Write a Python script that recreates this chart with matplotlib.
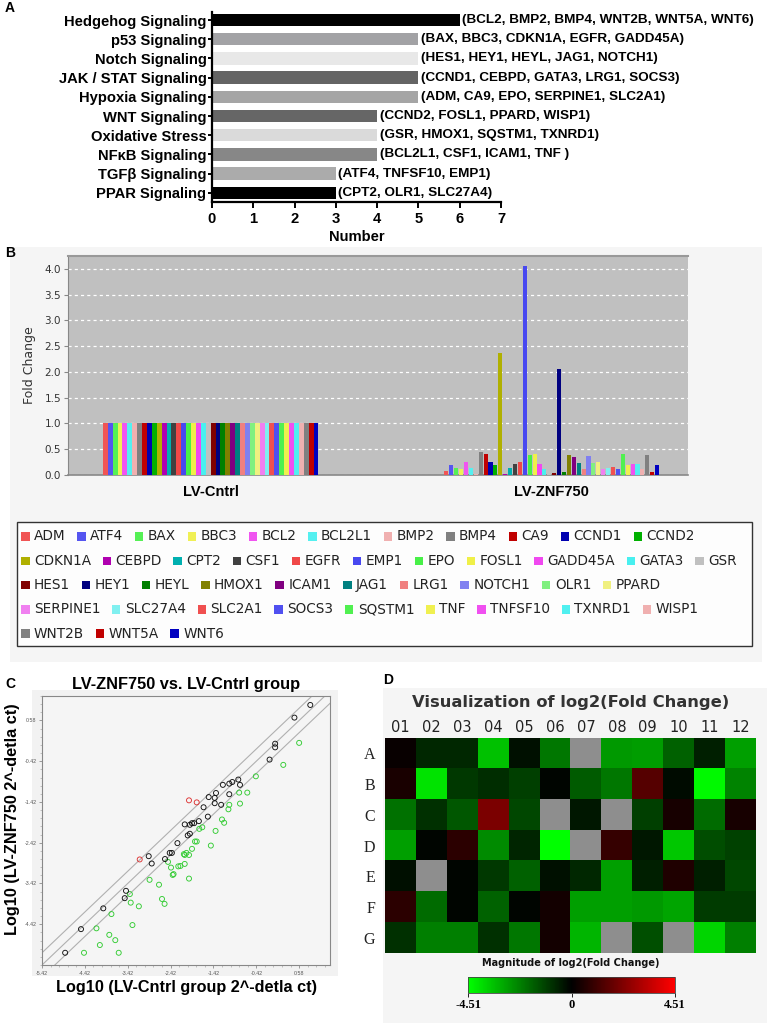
import numpy as np
import matplotlib
matplotlib.use('Agg')
import matplotlib.pyplot as plt
from matplotlib.colors import LinearSegmentedColormap
from matplotlib.patches import Rectangle
from matplotlib.ticker import AutoMinorLocator

plt.rcParams['font.family'] = ['Liberation Sans', 'DejaVu Sans']

# ---------------- data ----------------
# Panel A
pathways = ['Hedgehog Signaling', 'p53 Signaling', 'Notch Signaling', 'JAK / STAT Signaling',
            'Hypoxia Signaling', 'WNT Signaling', 'Oxidative Stress', 'NFκB Signaling',
            'TGFβ Signaling', 'PPAR Signaling']
pathway_counts = [6, 5, 5, 5, 5, 4, 4, 4, 3, 3]
pathway_genes = ['(BCL2, BMP2, BMP4, WNT2B, WNT5A, WNT6)',
                 '(BAX, BBC3, CDKN1A, EGFR, GADD45A)',
                 '(HES1, HEY1, HEYL, JAG1, NOTCH1)',
                 '(CCND1, CEBPD, GATA3, LRG1, SOCS3)',
                 '(ADM, CA9, EPO, SERPINE1, SLC2A1)',
                 '(CCND2, FOSL1, PPARD, WISP1)',
                 '(GSR, HMOX1, SQSTM1, TXNRD1)',
                 '(BCL2L1, CSF1, ICAM1, TNF )',
                 '(ATF4, TNFSF10, EMP1)',
                 '(CPT2, OLR1, SLC27A4)']
pathway_colors = ['#000000', '#a2a2a5', '#e8e8e8', '#646464', '#a5a5a5',
                  '#666666', '#dadada', '#878787', '#ababab', '#000000']

# Panel B
genes = ['ADM', 'ATF4', 'BAX', 'BBC3', 'BCL2', 'BCL2L1', 'BMP2', 'BMP4', 'CA9', 'CCND1', 'CCND2',
         'CDKN1A', 'CEBPD', 'CPT2', 'CSF1', 'EGFR', 'EMP1', 'EPO', 'FOSL1', 'GADD45A', 'GATA3', 'GSR',
         'HES1', 'HEY1', 'HEYL', 'HMOX1', 'ICAM1', 'JAG1', 'LRG1', 'NOTCH1', 'OLR1', 'PPARD',
         'SERPINE1', 'SLC27A4', 'SLC2A1', 'SOCS3', 'SQSTM1', 'TNF', 'TNFSF10', 'TXNRD1', 'WISP1',
         'WNT2B', 'WNT5A', 'WNT6']
gene_colors = ['#f05555', '#5555f0', '#55f055', '#f0f055', '#f055f0', '#55f0f0', '#f0b0b0', '#808080',
               '#c00000', '#0000b0', '#00b000', '#b0b000', '#b000b0', '#00b0b0', '#404040', '#f04848',
               '#4848f0', '#48f048', '#f0f048', '#f048f0', '#48f0f0', '#c0c0c0', '#800000', '#000080',
               '#008000', '#808000', '#800080', '#008080', '#f08080', '#8080f0', '#80f080', '#f0f080',
               '#f080f0', '#80f0f0', '#f05050', '#5050f0', '#50f050', '#f0f050', '#f050f0', '#50f0f0',
               '#f0b0b0', '#808080', '#c00000', '#0000c0']
groups = ['LV-Cntrl', 'LV-ZNF750']
fc_cntrl = [1.0] * 44
fc_znf = [0.08, 0.19, 0.14, 0.12, 0.26, 0.13, 0.02, 0.45, 0.41, 0.26, 0.19,
          2.36, 0.01, 0.14, 0.21, 0.26, 4.06, 0.39, 0.40, 0.21, 0.12, 0.15,
          0.04, 2.06, 0.05, 0.38, 0.34, 0.24, 0.12, 0.36, 0.23, 0.26,
          0.12, 0.13, 0.16, 0.12, 0.40, 0.19, 0.21, 0.21, 0.11, 0.38, 0.06, 0.19]
fc_yticks = [0.0, 0.5, 1.0, 1.5, 2.0, 2.5, 3.0, 3.5, 4.0]

# Panel C (log10 values)
black_x = [0.84, 0.47, 0.02, 0.02, -0.11, -0.84, -0.98, -1.05, -1.20, -0.80, -1.36, -1.05, -1.53,
           -1.39, -1.39, -1.24, -1.65, -1.55, -1.76, -1.87, -1.92, -1.97, -2.09, -1.97, -2.02,
           -2.26, -2.39, -2.44, -2.55, -2.93, -2.86, -3.46, -3.49, -3.99, -4.51, -4.88]
black_y = [0.96, 0.65, 0.01, -0.08, -0.38, -0.87, -0.93, -0.97, -1.00, -1.00, -1.20, -1.23, -1.30,
           -1.32, -1.45, -1.49, -1.55, -1.78, -1.89, -1.94, -1.94, -1.98, -1.97, -2.20, -2.24,
           -2.43, -2.67, -2.67, -2.82, -2.75, -2.93, -3.60, -3.78, -4.03, -4.54, -5.12]
red_x = [-1.99, -1.81, -3.14]
red_y = [-1.38, -1.43, -2.83]
green_x = [0.58, 0.21, -0.43, -0.82, -0.63, -0.80, -1.05, -1.07, -1.22, -1.17, -1.68, -1.75, -1.37,
           -1.81, -1.85, -1.48, -1.92, -2.11, -2.05, -1.99, -2.09, -2.48, -2.41, -2.35, -2.37,
           -2.24, -2.19, -2.09, -1.99, -2.91, -2.69, -3.37, -3.35, -3.16, -2.62, -2.56, -3.80,
           -3.31, -4.15, -3.85, -3.71, -4.07, -4.44, -3.63]
green_y = [0.03, -0.51, -0.79, -1.19, -1.19, -1.46, -1.49, -1.60, -1.85, -1.93, -2.04, -2.08, -2.13,
           -2.39, -2.39, -2.49, -2.57, -2.70, -2.67, -2.72, -2.72, -2.89, -3.03, -3.19, -3.21,
           -3.00, -2.99, -2.94, -3.30, -3.33, -3.45, -3.68, -3.89, -3.98, -3.80, -3.92, -4.17,
           -4.44, -4.52, -4.68, -4.81, -4.93, -5.12, -5.12]
log_ticks = [-5.42, -4.42, -3.42, -2.42, -1.42, -0.42, 0.58]
fold_threshold = 0.30  # log10(2)

# Panel D
nan = np.nan
plate_cols = ['01', '02', '03', '04', '05', '06', '07', '08', '09', '10', '11', '12']
plate_rows = ['A', 'B', 'C', 'D', 'E', 'F', 'G']
log2_fc = [
    [0.15, -0.70, -0.70, -3.40, -0.30, -2.10, nan, -2.70, -2.75, -1.70, -0.55, -2.80],
    [0.45, -4.00, -1.00, -0.80, -1.10, -0.10, -1.60, -2.10, 1.50, -0.20, -4.40, -2.30],
    [-2.00, -0.85, -1.55, 2.15, -1.25, nan, -0.40, nan, -1.10, 0.40, -1.90, 0.42],
    [-2.80, -0.08, 0.75, -2.45, -0.65, -4.51, nan, 0.95, -0.40, -3.50, -1.35, -1.15],
    [-0.25, nan, -0.10, -1.00, -1.70, -0.30, -0.70, -2.80, -0.55, 0.55, -0.55, -1.25],
    [0.75, -1.90, -0.10, -1.75, -0.10, 0.35, -2.80, -2.80, -2.70, -2.90, -1.05, -1.05],
    [-0.85, -2.25, -2.25, -0.85, -2.10, 0.35, -3.20, nan, -1.40, nan, -3.75, -2.25],
]
fc_limit = 4.51

# ---------------- figure ----------------
W, H = 767, 1023
fig = plt.figure(figsize=(W / 100, H / 100), dpi=100)
fig.patch.set_facecolor('white')


def add_ax(l, t, r, b):
    return fig.add_axes([l / W, 1 - b / H, (r - l) / W, (b - t) / H])


def ftext(x, y, s, **kw):
    return fig.text(x / W, 1 - y / H, s, **kw)


def frect(l, t, r, b, **kw):
    rect = Rectangle((l / W, 1 - b / H), (r - l) / W, (b - t) / H, transform=fig.transFigure, **kw)
    fig.add_artist(rect)
    return rect


# backgrounds
frect(10, 247, 762, 662, facecolor='#f5f5f5', edgecolor='none', zorder=-10)
frect(32, 690, 338, 976, facecolor='#f2f2f2', edgecolor='none', zorder=-10)
frect(383, 688, 767, 1023, facecolor='#f5f5f5', edgecolor='none', zorder=-10)

# ---------------- Panel A ----------------
axA = add_ax(212, 12, 501, 202)
ya = np.arange(len(pathways))
axA.barh(ya, pathway_counts, height=0.65, color=pathway_colors, edgecolor='none')
axA.set_xlim(0, 7)
axA.set_ylim(len(pathways) - 0.52, -0.42)
axA.set_yticks(ya)
axA.set_yticklabels(pathways, fontsize=10.6, fontweight='bold')
axA.set_xticks(range(8))
axA.set_xticklabels([str(i) for i in range(8)], fontsize=10.6, fontweight='bold')
for s in ['top', 'right']:
    axA.spines[s].set_visible(False)
for s in ['left', 'bottom']:
    axA.spines[s].set_linewidth(1.6)
axA.tick_params(axis='y', direction='out', width=1.4, length=3, pad=1)
axA.tick_params(axis='x', direction='out', width=1.4, length=4, pad=3)
axA.set_xlabel('Number', fontsize=10.6, fontweight='bold', labelpad=3)
for i, (c, g) in enumerate(zip(pathway_counts, pathway_genes)):
    axA.text(c + 0.06, i, g, va='center', ha='left', fontsize=9.7, fontweight='bold',
             clip_on=False)
ftext(5, 8, 'A', fontsize=10, fontweight='bold', va='center')

# ---------------- Panel B ----------------
axB = add_ax(68, 256, 688, 475)
axB.set_facecolor('#c0c0c0')
n = len(genes)
bar_w_units = 126.5
start0, start1 = 7.1, 76.7
axB.bar(start0 + np.arange(n), fc_cntrl, width=1.0, align='edge', color=gene_colors,
        edgecolor='none', zorder=3)
axB.bar(start1 + np.arange(n) + 0.08, fc_znf, width=0.84, align='edge', color=gene_colors,
        edgecolor='none', zorder=3)
axB.set_xlim(0, bar_w_units)
axB.set_ylim(0, 4.25)
axB.set_yticks(fc_yticks)
axB.set_yticklabels(['%.1f' % v for v in fc_yticks], fontsize=7.5, color='#333333',
                    fontfamily='DejaVu Sans')
axB.yaxis.grid(True, color='white', linestyle=(0, (2.5, 2.5)), linewidth=0.9, zorder=1)
axB.set_axisbelow(True)
axB.set_xticks([start0 + n / 2, start1 + n / 2])
axB.set_xticklabels(groups, fontsize=10.5, fontweight='bold')
axB.tick_params(axis='x', length=0, pad=7)
axB.tick_params(axis='y', length=3, color='#888888', pad=2)
for s in ['right']:
    axB.spines[s].set_visible(False)
axB.spines['top'].set_color('#999999')
axB.spines['top'].set_linewidth(1.5)
axB.spines['left'].set_color('#888888')
axB.spines['bottom'].set_color('#888888')
axB.spines['bottom'].set_linewidth(1.2)
axB.set_ylabel('Fold Change', fontsize=9, color='#333333', fontfamily='DejaVu Sans', labelpad=6)
ftext(5, 253, 'B', fontsize=10, fontweight='bold', va='center')

# legend (flow layout)
frect(17, 522, 752, 646, facecolor='#fdfdfd', edgecolor='#333333', linewidth=1.0, zorder=1)
renderer = fig.canvas.get_renderer()
lx0, lx1 = 21, 741
row_y0, row_dy = 536.5, 24.3
sq, sq_gap, item_gap = 8.5, 4.5, 11.5
x = lx0
row = 0
for g, c in zip(genes, gene_colors):
    t = ftext(0, 0, g, fontsize=9.8, va='center', ha='left', color='#222222',
              fontfamily='DejaVu Sans', zorder=3)
    w = t.get_window_extent(renderer).width
    if x + sq + sq_gap + w > lx1:
        row += 1
        x = lx0
    yy = row_y0 + row * row_dy
    frect(x, yy - sq / 2, x + sq, yy + sq / 2, facecolor=c, edgecolor='none', zorder=2)
    t.set_position(((x + sq + sq_gap) / W, 1 - yy / H))
    x = x + sq + sq_gap + w + item_gap

# ---------------- Panel C ----------------
axC = add_ax(42, 696, 330, 965)
axC.set_facecolor('#f5f5f5')
xl = (-5.42, 1.30)
yl = (-5.42, 1.18)
xx = np.array([-6.0, 2.0])
for off in (-fold_threshold, 0.0, fold_threshold):
    axC.plot(xx, xx + off, color='#b0b0b0', linewidth=0.8, zorder=1)
mk = dict(marker='o', s=13, facecolors='none', linewidths=0.65, zorder=3)
axC.scatter(green_x, green_y, edgecolors='#33cc33', **mk)
axC.scatter(black_x, black_y, edgecolors='#111111', **mk)
axC.scatter(red_x, red_y, edgecolors='#dd3333', **mk)
axC.set_xlim(*xl)
axC.set_ylim(*yl)
axC.set_xticks(log_ticks)
axC.set_yticks(log_ticks[1:])
axC.set_xticklabels(['%.2f' % v for v in log_ticks], fontsize=3.8, color='#555555')
axC.set_yticklabels(['%.2f' % v for v in log_ticks[1:]], fontsize=3.8, color='#555555')
axC.xaxis.set_minor_locator(AutoMinorLocator(5))
axC.yaxis.set_minor_locator(AutoMinorLocator(5))
axC.tick_params(which='major', length=2.5, width=0.5, color='#777777', pad=1.5)
axC.tick_params(which='minor', length=1.5, width=0.4, color='#999999')
for s in axC.spines.values():
    s.set_color('#888888')
    s.set_linewidth(0.8)
axC.set_title('LV-ZNF750 vs. LV-Cntrl group', fontsize=11.8, fontweight='bold', pad=5)
axC.set_xlabel('Log10 (LV-Cntrl group 2^-detla ct)', fontsize=11.7, fontweight='bold', labelpad=3)
axC.set_ylabel('Log10 (LV-ZNF750 2^-detla ct)', fontsize=11.7, fontweight='bold')
axC.yaxis.set_label_coords(-0.075, 0.543)
ftext(5, 684, 'C', fontsize=10, fontweight='bold', va='center')

# ---------------- Panel D ----------------
cmap = LinearSegmentedColormap.from_list('gkr', ['#00ff00', '#000000', '#ff0000'])
cmap.set_bad('#8e8e8e')
axD = add_ax(385, 738, 756, 953)
data = np.ma.masked_invalid(np.array(log2_fc, dtype=float))
im = axD.imshow(data, cmap=cmap, vmin=-fc_limit, vmax=fc_limit, aspect='auto',
                interpolation='nearest')
axD.set_xticks(range(len(plate_cols)))
axD.set_xticklabels(plate_cols, fontsize=10.5, fontfamily='DejaVu Sans', color='#222222')
axD.xaxis.tick_top()
axD.set_yticks(range(len(plate_rows)))
axD.set_yticklabels(plate_rows, fontsize=11.5, fontfamily='Liberation Serif', color='#222222')
axD.tick_params(length=0, pad=2)
axD.tick_params(axis='y', pad=7)
for s in axD.spines.values():
    s.set_visible(False)
ftext(571, 703, 'Visualization of log2(Fold Change)', fontsize=11.8, fontweight='bold',
      fontfamily='DejaVu Sans', color='#333333', ha='center', va='center')
ftext(571, 963, 'Magnitude of log2(Fold Change)', fontsize=7, fontweight='bold',
      fontfamily='DejaVu Sans', color='#111111', ha='center', va='center')
cax = add_ax(468, 977, 675, 993)
cb = fig.colorbar(im, cax=cax, orientation='horizontal', ticks=[-fc_limit, 0, fc_limit])
cb.ax.set_xticklabels(['-4.51', '0', '4.51'], fontsize=9, fontweight='bold',
                      fontfamily='Liberation Serif')
cb.ax.tick_params(length=3, width=0.6, pad=1)
cb.outline.set_linewidth(0.6)
cb.outline.set_edgecolor('#444444')
ftext(383, 680, 'D', fontsize=10, fontweight='bold', va='center')

fig.savefig('out.png', dpi=100)
